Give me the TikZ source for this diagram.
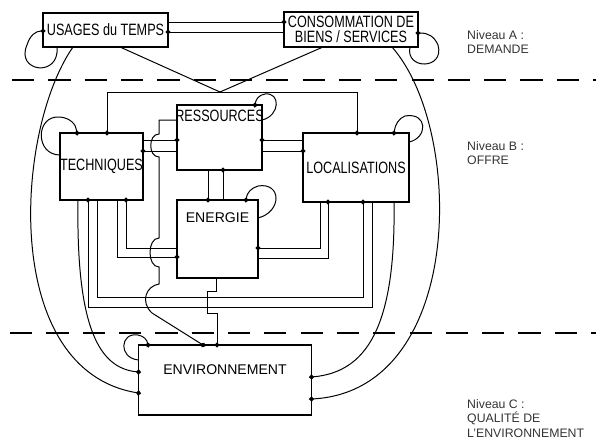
\documentclass[tikz,border=0pt]{standalone}
\usepackage{fontspec}
\setmainfont{Liberation Sans}
\newfontfamily\boxfont[FakeStretch=0.77]{Liberation Sans}
\usetikzlibrary{arrows.meta}

\tikzset{
    bloc/.style={draw, line width=1.1pt, inner sep=0pt, outer sep=0pt, align=center,
        font=\boxfont\fontsize{14}{12.5}\selectfont},
    titre/.style={anchor=north, inner sep=0pt, font=\fontsize{12}{14}\selectfont},
    flux/.style={line width=0.85pt, -{Circle[length=4.2pt]}, shorten >=-2.1pt},
    trait/.style={line width=0.85pt},
    niveau/.style={anchor=north west, inner sep=0pt, align=left, text=black!80,
        font=\fontsize{10.5}{12.5}\selectfont},
    separation/.style={line width=1.3pt, dash pattern=on 19pt off 12pt}
}

\begin{document}
\begin{tikzpicture}[x=0.03cm, y=-0.03cm]
    \useasboundingbox (0,0) rectangle (596,446);

    %levels
        \draw[separation] (12,80) -- (596,80);
        \draw[separation] (10,333) -- (596,333);
        \node[niveau] (nivA) at (467,30) {Niveau A :\\DEMANDE};
        \node[niveau] (nivB) at (467,141) {Niveau B :\\OFFRE};
        \node[niveau] (nivC) at (467,399) {Niveau C :\\QUALITÉ DE\\L’ENVIRONNEMENT};

    %blocks
        \node[bloc, minimum width=3.75cm, minimum height=1.02cm] (usages) at (105.5,30) {USAGES du TEMPS};
        \node[bloc, minimum width=4.02cm, minimum height=1.05cm] (conso) at (351,29.5) {CONSOMMATION DE\\BIENS / SERVICES};
        \node[bloc, minimum width=2.49cm, minimum height=2.01cm] (tech) at (101.5,166.5) {TECHNIQUES};
        \node[bloc, minimum width=2.55cm, minimum height=1.95cm,
            label={[name=res-txt, anchor=north, inner sep=0pt, yshift=-0.14cm, font=\boxfont\fontsize{14}{12.5}\selectfont]north:RESSOURCES}] (res) at (219.5,137.5) {};
        \node[bloc, minimum width=2.43cm, minimum height=2.34cm,
            label={[name=energie-txt, titre, yshift=-0.36cm]north:ENERGIE}] (energie) at (217.5,239) {};
        \node[bloc, minimum width=3.18cm, minimum height=2.07cm] (loc) at (356,167.5) {LOCALISATIONS};
        \node[bloc, minimum width=5.19cm, minimum height=2.1cm,
            label={[name=env-txt, titre, yshift=-0.57cm]north:ENVIRONNEMENT}] (env) at (225,380) {};
        \coordinate (split) at (220,92);

    %level A
        \draw[flux] (usages.east |- 0,22) -- (conso.west |- 0,22);
        \draw[flux] (conso.west |- 0,32) -- (usages.east |- 0,32);
        \draw[flux] (usages.south -| 57,0) .. controls (60,78) and (15,72) .. (27,45)
            .. controls (30,35) and (36,31) .. (usages.west |- 0,31);
        \draw[flux] (conso.south -| 410,0) .. controls (405,70) and (445,70) .. (438,45)
            .. controls (434,36) and (428,33) .. (conso.east |- 0,33);
        \draw[trait] (usages.south -| 120,0) -- (split);
        \draw[trait] (conso.south -| 323,0) -- (split);
        \draw[flux] (split) -| (tech.north -| 107,0);
        \draw[flux] (split) -| (loc.north -| 357,0);

    %level B loops
        \draw[flux] (tech.west |- 0,155) .. controls (35,155) and (35,115) .. (60,117)
            .. controls (70,118) and (76,124) .. (tech.north -| 77,0);
        \draw[flux] (res.east |- 0,120) .. controls (280,116) and (281,92) .. (265,94)
            .. controls (259,95) and (256,99) .. (res.north -| 255,0);
        \draw[flux] (energie.east |- 0,218) .. controls (282,212) and (282,182) .. (258,186)
            .. controls (251,188) and (247,193) .. (energie.north -| 246,0);
        \draw[flux] (loc.east |- 0,142) .. controls (428,138) and (428,112) .. (405,116)
            .. controls (399,118) and (395,125) .. (loc.north -| 394,0);

    %level B links
        \draw[flux] (tech.east |- 0,140) -- (res.west |- 0,140);
        \draw[flux] (res.west |- 0,151) -- (tech.east |- 0,151);
        \draw[flux] (loc.west |- 0,140) -- (res.east |- 0,140);
        \draw[flux] (res.east |- 0,151) -- (loc.west |- 0,151);
        \draw[flux] (res.south -| 208,0) -- (energie.north -| 208,0);
        \draw[flux] (energie.north -| 223,0) -- (res.south -| 223,0);
        \draw[flux] (energie.west |- 0,248) -| (tech.south -| 126,0);
        \draw[flux] (tech.south -| 117,0) |- (energie.west |- 0,257);
        \draw[flux] (loc.south -| 320,0) |- (energie.east |- 0,248);
        \draw[flux] (energie.east |- 0,258) -| (loc.south -| 328,0);
        \draw[flux] (tech.south -| 97,0) -- (97,297) -| (loc.south -| 363,0);
        \draw[flux] (loc.south -| 372,0) -- (372,307) -| (tech.south -| 88,0);

    %towards level C
        \draw[flux] (res.west |- 0,120) -- (159,120) -- (159,134)
            .. controls (148,134) and (148,157) .. (159,157) -- (159,238)
            .. controls (147,238) and (147,267) .. (159,267) -- (159,284)
            .. controls (146,286) and (140,302) .. (152,313) -- (env.north -| 203,0);
        \draw[flux] (energie.south -| 216,0) -- (216,291) -- (207,291) -- (207,313)
            -- (217,313) -- (env.north -| 217,0);
        \draw[flux] (usages.south -| 73,0) .. controls (15,130) and (0,370) .. (env.west |- 0,393);
        \draw[flux] (tech.south -| 78,0) .. controls (76,330) and (100,368) .. (env.west |- 0,372);
        \draw[flux] (conso.south -| 392,0) .. controls (465,130) and (465,390) .. (env.east |- 0,399);
        \draw[flux] (loc.south -| 394,0) .. controls (396,330) and (365,372) .. (env.east |- 0,377);
        \draw[flux] (env.west |- 0,360) .. controls (118,358) and (120,332) .. (138,335)
            .. controls (144,336) and (147,340) .. (env.north -| 148,0);

\end{tikzpicture}
\end{document}
